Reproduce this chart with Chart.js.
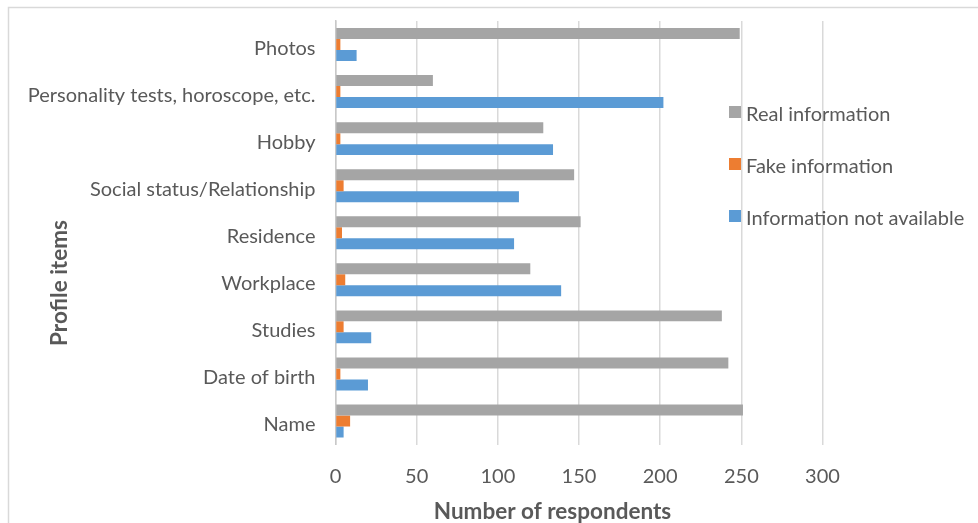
<!DOCTYPE html>
<html>
<head>
<meta charset="utf-8">
<script src="https://cdn.jsdelivr.net/npm/chart.js@4.4.1/dist/chart.umd.min.js"></script>
<style>
  html, body { margin: 0; padding: 0; background: #ffffff; }
  #wrap { width: 978px; height: 523px; position: relative; }
</style>
</head>
<body>
<div id="wrap"><canvas id="chart" width="978" height="523"></canvas></div>
<script>
// Profile items, listed top to bottom
const categories = [
  'Photos',
  'Personality tests, horoscope, etc.',
  'Hobby',
  'Social status/Relationship',
  'Residence',
  'Workplace',
  'Studies',
  'Date of birth',
  'Name'
];

// Number of respondents per profile item
const realInfo     = [249, 60, 128, 147, 151, 120, 238, 242, 251];
const fakeInfo     = [3, 3, 3, 5, 4, 6, 5, 3, 9];
const notAvailable = [13, 202, 134, 113, 110, 139, 22, 20, 5];

const seriesNames = ['Real information', 'Fake information', 'Information not available'];
const axisTitleX = 'Number of respondents';
const axisTitleY = 'Profile items';
const xMin = 0, xMax = 300, xStep = 50;

const TEXT = '#595959';
const FONT = 'Lato, "Open Sans", sans-serif';

// Outer frame around the whole chart
const framePlugin = {
  id: 'frame',
  beforeDraw(chart) {
    const ctx = chart.ctx;
    ctx.save();
    ctx.fillStyle = '#ffffff';
    ctx.fillRect(0, 0, chart.width, chart.height);
    ctx.strokeStyle = '#d9d9d9';
    ctx.lineWidth = 1.5;
    ctx.strokeRect(8.5, 7.5, 1100, 700);
    ctx.restore();
  }
};

// Legend placed over the right part of the plot, plus the two axis titles
const overlayPlugin = {
  id: 'overlay',
  afterDraw(chart) {
    const ctx = chart.ctx;
    ctx.save();
    // legend
    const lx = 729, rowY = [111.5, 163.5, 215.5], box = 11;
    ctx.font = '20px ' + FONT;
    ctx.textBaseline = 'middle';
    ctx.textAlign = 'left';
    chart.data.datasets.forEach((ds, i) => {
      ctx.fillStyle = ds.backgroundColor;
      ctx.fillRect(lx, rowY[i] - box / 2, box + 1, box + 1);
      ctx.fillStyle = TEXT;
      ctx.fillText(ds.label, lx + 17, rowY[i] + 3);
    });
    // axis titles
    ctx.fillStyle = TEXT;
    ctx.font = 'bold 22.5px ' + FONT;
    ctx.textAlign = 'center';
    ctx.textBaseline = 'middle';
    ctx.fillText(axisTitleX, 552.5, 512);
    ctx.translate(60, 283);
    ctx.rotate(-Math.PI / 2);
    ctx.fillText(axisTitleY, 0, 0);
    ctx.restore();
  }
};

new Chart(document.getElementById('chart'), {
  type: 'bar',
  data: {
    labels: categories,
    datasets: [
      { label: seriesNames[0], data: realInfo,     backgroundColor: '#A5A5A5' },
      { label: seriesNames[1], data: fakeInfo,     backgroundColor: '#ED7D31' },
      { label: seriesNames[2], data: notAvailable, backgroundColor: '#5B9BD5' }
    ]
  },
  options: {
    indexAxis: 'y',
    responsive: false,
    animation: false,
    devicePixelRatio: 1,
    layout: { padding: { left: 0, top: 21, right: 155.5, bottom: 0 } },
    datasets: { bar: { categoryPercentage: 0.7, barPercentage: 1.0 } },
    plugins: {
      legend: { display: false },
      tooltip: { enabled: false },
      title: { display: false }
    },
    scales: {
      x: {
        type: 'linear',
        min: xMin,
        max: xMax,
        ticks: { stepSize: xStep, color: TEXT, font: { family: FONT, size: 20 }, padding: 20 },
        grid: { color: '#d9d9d9', lineWidth: 1.5, drawTicks: false },
        border: { display: false },
        afterFit(scale) { scale.height = 78.5; }
      },
      y: {
        type: 'category',
        ticks: { color: TEXT, font: { family: FONT, size: 20 }, padding: 20, labelOffset: 4 },
        grid: { display: false, drawTicks: false },
        border: { display: true, color: '#c8c8c8', width: 1.5 },
        afterFit(scale) {
          scale.width = 335.5;
          scale.paddingTop = 0;
          scale.paddingBottom = 0;
        }
      }
    }
  },
  plugins: [framePlugin, overlayPlugin]
});
</script>
</body>
</html>
